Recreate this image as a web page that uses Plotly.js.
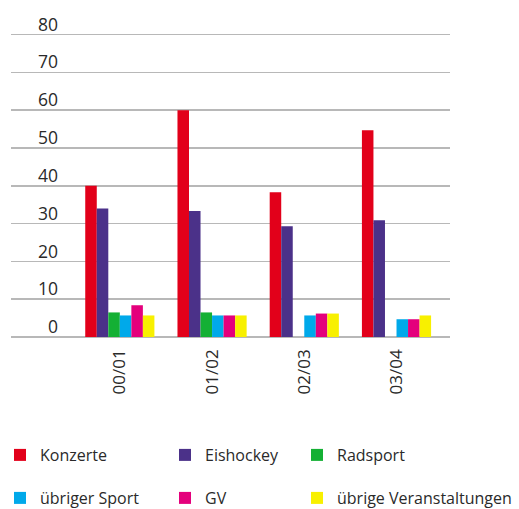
<!DOCTYPE html>
<html><head><meta charset="utf-8">
<script src="https://cdn.plot.ly/plotly-3.0.1.min.js"></script>
<style>html,body{margin:0;padding:0;background:#fff}</style>
</head><body><div id="chart" style="width:519px;height:509px"></div>
<script>
// Data
const seasons = ['00/01', '01/02', '02/03', '03/04'];
const konzerte = [40, 60, 38.3, 54.7];
const eishockey = [34, 33.3, 29.3, 30.9];
const radsport = [6.5, 6.5, 0, 0];
const uebrigerSport = [5.7, 5.7, 5.7, 4.7];
const gv = [8.4, 5.7, 6.2, 4.7];
const uebrigeVeranstaltungen = [5.7, 5.7, 6.2, 5.7];
const seriesNames = ['Konzerte', 'Eishockey', 'Radsport', 'übriger Sport', 'GV', 'übrige Veranstaltungen'];
const yTickValues = [0, 10, 20, 30, 40, 50, 60, 70, 80];

// Styles
const colors = ['#e2001a', '#4b3189', '#14b034', '#00a9ea', '#e4007c', '#f8f000'];
const seriesValues = [konzerte, eishockey, radsport, uebrigerSport, gv, uebrigeVeranstaltungen];
const legendIds = ['legend', 'legend2', 'legend3', 'legend4', 'legend5', 'legend6'];

const traces = seriesValues.map((vals, i) => ({
  type: 'bar',
  name: seriesNames[i],
  x: seasons,
  y: vals,
  marker: {color: colors[i], line: {width: 0}},
  legend: legendIds[i],
  hoverinfo: 'x+y+name'
}));
// empty helper trace so that the label-only y axis is drawn
traces.push({type: 'scatter', x: [], y: [], yaxis: 'y2', showlegend: false, hoverinfo: 'skip'});

const font = {family: 'Open Sans, sans-serif', color: '#2a2a2a'};
const legendFont = {family: 'Open Sans, sans-serif', size: 16, color: '#2a2a2a'};
const colX = [0, 165 / 519, 297 / 519];
const rowY = [1 - 455 / 509, 1 - 498 / 509];
function legendAt(col, row) {
  return {
    xref: 'container', yref: 'container',
    x: colX[col], y: rowY[row], xanchor: 'left', yanchor: 'middle',
    font: legendFont, bgcolor: 'rgba(0,0,0,0)', borderwidth: 0
  };
}

const gridColor = '#b8b8b8';
const layout = {
  width: 519, height: 509,
  margin: {l: 11, r: 69, t: 27, b: 172, pad: 0, autoexpand: false},
  paper_bgcolor: '#fff', plot_bgcolor: '#fff',
  font: font,
  barmode: 'group',
  bargap: 0.25,
  bargroupgap: 0,
  showlegend: true,
  xaxis: {
    type: 'category',
    range: [-1.18, 3.58],
    tickangle: -90,
    tickfont: {family: 'Open Sans, sans-serif', size: 17, color: '#2a2a2a'},
    ticks: '',
    ticklabelstandoff: 8,
    showgrid: false,
    showline: false,
    zeroline: false,
    automargin: false,
    fixedrange: true
  },
  yaxis: {
    range: [0, 82],
    tickmode: 'array',
    tickvals: yTickValues,
    showticklabels: false,
    ticks: '',
    showgrid: true,
    gridcolor: gridColor,
    gridwidth: 1.5,
    zeroline: true,
    zerolinecolor: gridColor,
    zerolinewidth: 1.5,
    showline: false,
    automargin: false,
    fixedrange: true
  },
  yaxis2: {
    overlaying: 'y',
    anchor: 'free',
    position: 0.107,
    side: 'left',
    range: [0, 82],
    tickmode: 'array',
    tickvals: yTickValues,
    ticktext: yTickValues.map(String),
    tickfont: {family: 'Open Sans, sans-serif', size: 17.5, color: '#2a2a2a'},
    ticklabelshift: -10,
    ticks: '',
    showgrid: false,
    zeroline: false,
    showline: false,
    automargin: false,
    fixedrange: true
  },
  legend: legendAt(0, 0),
  legend2: legendAt(1, 0),
  legend3: legendAt(2, 0),
  legend4: legendAt(0, 1),
  legend5: legendAt(1, 1),
  legend6: legendAt(2, 1)
};

Plotly.newPlot('chart', traces, layout, {displayModeBar: false, staticPlot: true});
</script>
</body></html>
